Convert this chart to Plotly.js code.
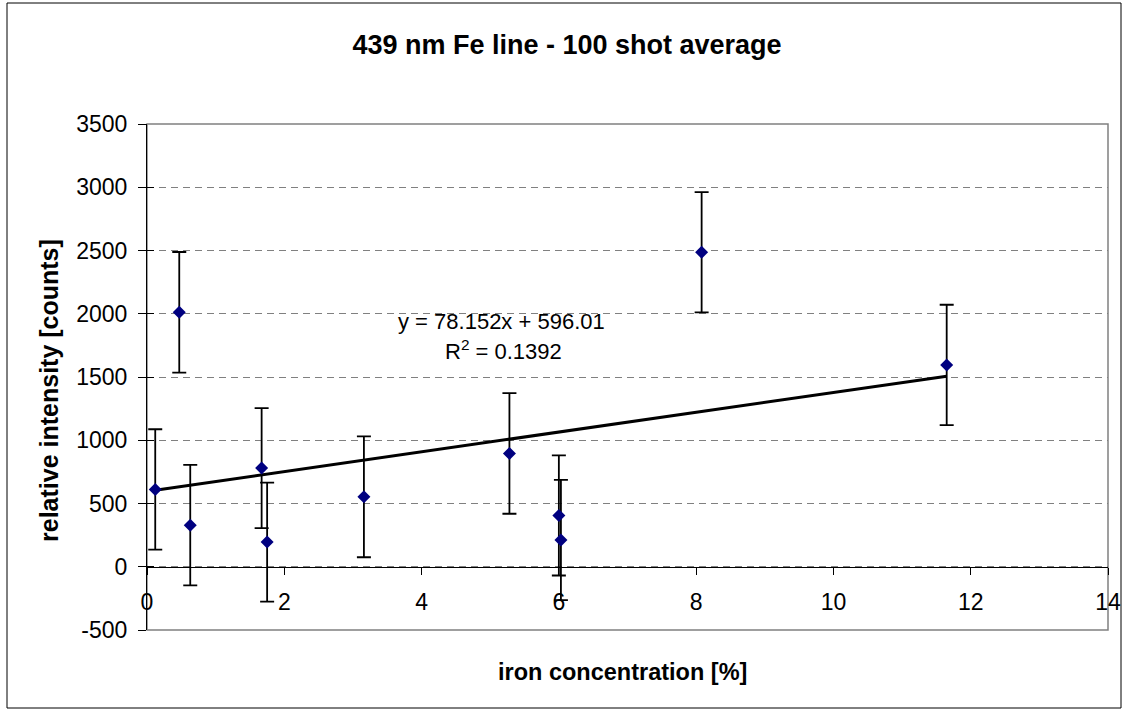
<!DOCTYPE html>
<html>
<head>
<meta charset="utf-8">
<script src="https://cdn.plot.ly/plotly-3.0.1.min.js"></script>
<style>
  html, body { margin: 0; padding: 0; background: #fff; }
  #chart { width: 1129px; height: 713px; }
</style>
</head>
<body>
<div id="chart"></div>
<script>
// Iron concentration (%) of each sample
const ironConc = [0.12, 0.47, 0.63, 1.67, 1.75, 3.16, 5.28, 6.00, 6.03, 8.08, 11.65];
// Mean relative intensity of the 439 nm Fe line (counts, 100 shot average)
const intensity = [611, 2011, 329, 780, 195, 553, 896, 406, 211, 2486, 1595];
// Standard deviation for each sample
const intensityErr = [476, 477, 476, 474, 470, 478, 477, 475, 475, 475, 476];

// Linear least-squares fit
const slope = 78.152;
const intercept = 596.01;
const rSquared = 0.1392;

const xTicks = [0, 2, 4, 6, 8, 10, 12, 14];
const yTicks = [-500, 0, 500, 1000, 1500, 2000, 2500, 3000, 3500];

const fitX = [Math.min(...ironConc), Math.max(...ironConc)];
const fitY = fitX.map(v => slope * v + intercept);

const font = "Arial, 'Liberation Sans', sans-serif";

// plot area in pixels, used to place the frame and free-standing labels
const W = 1129, H = 713;
const m = { l: 147, r: 21, t: 124, b: 83 };
const pw = W - m.l - m.r, ph = H - m.t - m.b;
const px = x => (x - m.l) / pw;
const py = y => (H - m.b - y) / ph;

const yRange = [-500, 3500];

const traces = [
  {
    x: fitX, y: fitY, type: 'scatter', mode: 'lines',
    line: { color: '#000', width: 3 }, hoverinfo: 'skip', showlegend: false
  },
  {
    x: ironConc, y: intensity, type: 'scatter', mode: 'markers',
    marker: { symbol: 'diamond', color: '#000080', size: 10 },
    error_y: { type: 'data', array: intensityErr, visible: true,
               color: '#000', thickness: 1.8, width: 7 },
    showlegend: false
  },
  // empty trace that carries the inner half of the y tick marks
  { x: [null], y: [null], yaxis: 'y2', type: 'scatter', showlegend: false, hoverinfo: 'skip' }
];

const layout = {
  width: W, height: H,
  margin: m,
  paper_bgcolor: '#fff', plot_bgcolor: '#fff',
  font: { family: font, size: 23, color: '#000' },
  title: {
    text: '<b>439 nm Fe line - 100 shot average</b>',
    font: { family: font, size: 27, color: '#000' },
    x: 567 / W, xanchor: 'center', xref: 'container',
    y: 1 - 45 / H, yanchor: 'middle', yref: 'container'
  },
  xaxis: {
    range: [0, 14], tickvals: xTicks, ticktext: xTicks.map(String),
    showgrid: false, zeroline: false,
    showline: true, linecolor: '#000', linewidth: 1,
    ticks: 'outside', ticklen: 7, tickcolor: '#000', tickwidth: 1,
    anchor: 'free', position: (0 - yRange[0]) / (yRange[1] - yRange[0]),
    tickfont: { family: font, size: 23 },
    ticklabelstandoff: 8
  },
  yaxis: {
    range: yRange, tickvals: yTicks, ticktext: yTicks.map(String),
    showgrid: true, gridcolor: '#808080', griddash: '7px,5px', gridwidth: 1,
    zeroline: false,
    showline: true, linecolor: '#000', linewidth: 1,
    ticks: 'outside', ticklen: 8, tickcolor: '#000', tickwidth: 1,
    tickfont: { family: font, size: 23 },
    ticklabelstandoff: 6
  },
  yaxis2: {
    overlaying: 'y', matches: 'y', side: 'left', anchor: 'x',
    range: yRange, tickvals: yTicks, showticklabels: false,
    showgrid: false, zeroline: false, showline: false,
    ticks: 'inside', ticklen: 7, tickcolor: '#000', tickwidth: 1
  },
  shapes: [
    // plot area frame
    { type: 'rect', xref: 'paper', yref: 'paper', x0: 0, x1: 1, y0: 0, y1: 1,
      line: { color: '#808080', width: 1.5 }, layer: 'below' },
    // chart border
    { type: 'rect', xref: 'paper', yref: 'paper',
      x0: px(7), x1: px(1121), y0: py(3), y1: py(708),
      line: { color: '#000', width: 1 } }
  ],
  annotations: [
    { xref: 'paper', yref: 'paper', x: px(501), y: py(321),
      text: 'y = 78.152x + 596.01', showarrow: false,
      font: { family: font, size: 22 }, xanchor: 'center', yanchor: 'middle' },
    { xref: 'paper', yref: 'paper', x: px(503), y: py(350),
      text: 'R<sup>2</sup> = ' + rSquared, showarrow: false,
      font: { family: font, size: 22 }, xanchor: 'center', yanchor: 'middle' },
    { xref: 'paper', yref: 'paper', x: px(622), y: py(672),
      text: '<b>iron concentration [%]</b>', showarrow: false,
      font: { family: font, size: 23.5 }, xanchor: 'center', yanchor: 'middle' },
    { xref: 'paper', yref: 'paper', x: px(49), y: py(391),
      text: '<b>relative intensity [counts]</b>', showarrow: false, textangle: -90,
      font: { family: font, size: 25 }, xanchor: 'center', yanchor: 'middle' }
  ]
};

Plotly.newPlot('chart', traces, layout, { displayModeBar: false, staticPlot: true });
</script>
</body>
</html>
